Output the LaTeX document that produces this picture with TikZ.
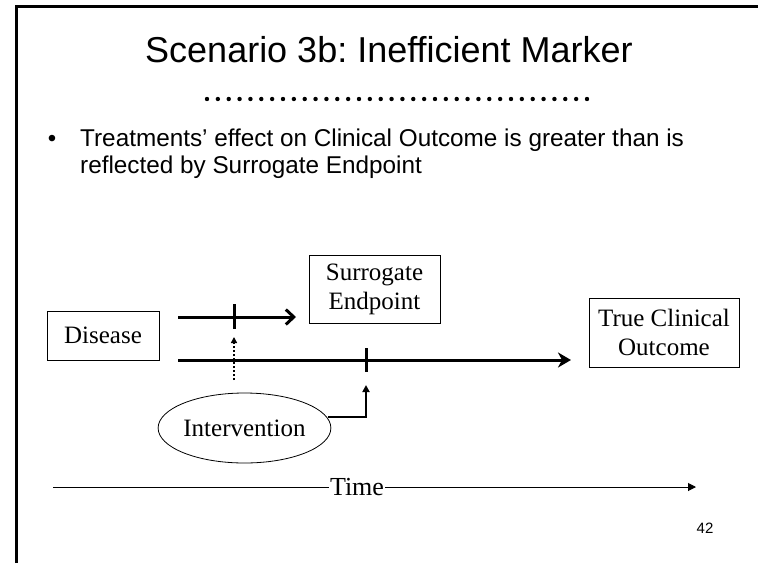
\documentclass[tikz,border=0pt]{standalone}
\usepackage{fontspec}
\setmainfont{Liberation Serif}
\newfontfamily\arial{Liberation Sans}
\usetikzlibrary{arrows.meta,shapes.geometric}
\frenchspacing

\tikzset{
  slidetitle/.style={font=\arial\fontsize{36}{40}\selectfont, anchor=base, inner sep=0pt},
  bodytext/.style={font=\arial\fontsize{24.3}{27}\selectfont, anchor=north west, align=left, inner sep=0pt},
  stage/.style={draw, line width=0.8pt, font=\fontsize{25}{29}\selectfont, align=center, inner sep=0pt},
  flow/.style={line width=3pt},
  tick/.style={line width=3pt},
  timeline/.style={line width=1pt},
}

\begin{document}
\begin{tikzpicture}[x=1pt,y=-1pt]
  \useasboundingbox (0,0) rectangle (758,563);

  % slide frame (top and left edges)
  \draw[line width=3pt] (16,563) -- (16,6) -- (758,6);

  % heading
  \node[slidetitle] (title) at (389,62) {Scenario 3b: Inefficient Marker};
  \foreach \i in {0,...,35}
    \fill (207+\i*10.857,99) circle (2.2);

  % bullet point
  \node[font=\arial\fontsize{24}{27}\selectfont, anchor=base, inner sep=0pt] (bullet) at (52,146) {•};
  \node[bodytext] (claim) at (80,128.3)
    {Treatments’ effect on Clinical Outcome is greater than is\\reflected by Surrogate Endpoint};

  % stages
  \node[stage, minimum width=112, minimum height=49] (disease) at (103,335.5) {Disease};
  \node[stage, minimum width=131, minimum height=68] (surrogate) at (374.5,289) {Surrogate\\Endpoint};
  \node[stage, minimum width=150, minimum height=69] (outcome) at (664,332.5) {True Clinical\\Outcome};
  \node[draw, ellipse, line width=0.8pt, minimum width=145, minimum height=70,
        font=\fontsize{25}{29}\selectfont, inner sep=0pt] (intervention) at (244.5,428) {Intervention};

  % pathway to the surrogate endpoint
  \coordinate (s0) at (178,317);
  \coordinate (s1) at (296,317);
  \draw[flow, -{Straight Barb[length=8pt,width=15pt,line width=3pt]}] (s0) -- (s1);
  \coordinate (t1a) at (234,304);
  \coordinate (t1b) at (234,329);
  \draw[tick] (t1a) -- (t1b);

  % pathway to the clinical outcome
  \coordinate (c0) at (178,360);
  \coordinate (c1) at (571,360);
  \draw[flow, -{Stealth[length=13pt,width=15pt,inset=4pt]}] (c0) -- (c1);
  \coordinate (t2a) at (366,348);
  \coordinate (t2b) at (366,372);
  \draw[tick] (t2a) -- (t2b);

  % effects of the intervention
  \coordinate (d0) at (234,380);
  \coordinate (d1) at (234,337);
  \draw[line width=2pt, dotted, -{Triangle[length=6pt,width=6pt]}] (d0) -- (d1);
  \coordinate (e0) at (328,417);
  \coordinate (e1) at (366,385);
  \draw[line width=2.5pt, -{Triangle[length=7pt,width=7pt]}] (e0) -| (e1);

  % time axis
  \node[font=\fontsize{26}{30}\selectfont, inner sep=1pt] (time) at (357,487) {Time};
  \coordinate (a0) at (53,487);
  \coordinate (a1) at (696,487);
  \draw[timeline] (a0) -- (time.west);
  \draw[timeline, -{Triangle[length=8pt,width=8pt]}] (time.east) -- (a1);

  % page number
  \node[font=\arial\fontsize{15}{18}\selectfont, inner sep=0pt] (page) at (705,528) {42};
\end{tikzpicture}
\end{document}
